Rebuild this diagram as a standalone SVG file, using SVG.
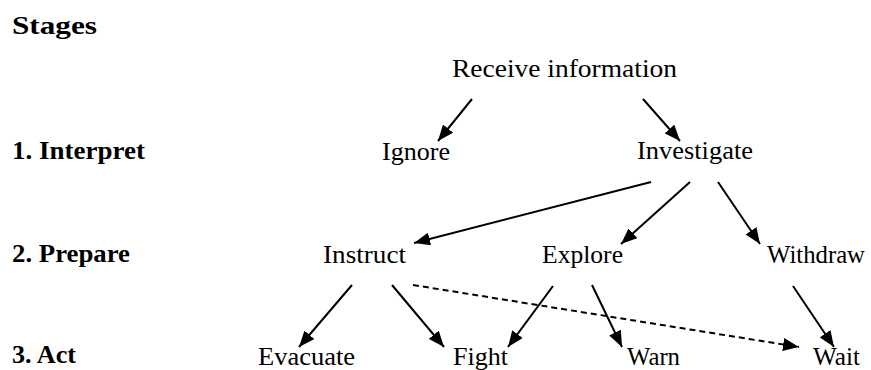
<svg xmlns="http://www.w3.org/2000/svg" width="871" height="370" viewBox="0 0 871 370">
  <style>
    .stage { font-family: "Liberation Serif", "Times New Roman", serif; font-weight: bold; font-size: 25px; fill: #000; }
    .node text { font-family: "Liberation Serif", "Times New Roman", serif; font-size: 26px; fill: #000; }
    .edge { stroke: #000; stroke-width: 2; fill: none; marker-end: url(#arrow); }
    .dashed { stroke-dasharray: 6 4; }
  </style>
  <defs>
    <marker id="arrow" markerUnits="userSpaceOnUse" markerWidth="16" markerHeight="13" refX="16" refY="6.5" orient="auto">
      <path d="M0,0 L16,6.5 L0,13 z" fill="#000"/>
    </marker>
  </defs>
  <rect width="871" height="370" fill="#fff"/>

  <!-- stage headings on the left -->
  <g id="stage-labels">
    <text class="stage" x="12" y="34" textLength="85" lengthAdjust="spacingAndGlyphs">Stages</text>
    <text class="stage" x="12" y="159" textLength="133" lengthAdjust="spacingAndGlyphs">1. Interpret</text>
    <text class="stage" x="12" y="262" textLength="118" lengthAdjust="spacingAndGlyphs">2. Prepare</text>
    <text class="stage" x="12" y="363" textLength="64" lengthAdjust="spacingAndGlyphs">3. Act</text>
  </g>

  <!-- nodes -->
  <g id="receive" class="node"><text x="452" y="77" textLength="225" lengthAdjust="spacingAndGlyphs">Receive information</text></g>
  <g id="ignore" class="node"><text x="382" y="160" textLength="68" lengthAdjust="spacingAndGlyphs">Ignore</text></g>
  <g id="investigate" class="node"><text x="637" y="159" textLength="116" lengthAdjust="spacingAndGlyphs">Investigate</text></g>
  <g id="instruct" class="node"><text x="323" y="263" textLength="83" lengthAdjust="spacingAndGlyphs">Instruct</text></g>
  <g id="explore" class="node"><text x="542" y="263" textLength="81" lengthAdjust="spacingAndGlyphs">Explore</text></g>
  <g id="withdraw" class="node"><text x="767" y="263" textLength="98" lengthAdjust="spacingAndGlyphs">Withdraw</text></g>
  <g id="evacuate" class="node"><text x="258" y="365" textLength="97" lengthAdjust="spacingAndGlyphs">Evacuate</text></g>
  <g id="fight" class="node"><text x="453" y="365" textLength="55" lengthAdjust="spacingAndGlyphs">Fight</text></g>
  <g id="warn" class="node"><text x="627" y="365" textLength="53" lengthAdjust="spacingAndGlyphs">Warn</text></g>
  <g id="wait" class="node"><text x="813" y="365" textLength="47" lengthAdjust="spacingAndGlyphs">Wait</text></g>

  <!-- connectors -->
  <g id="connectors">
    <line class="edge" x1="472" y1="99" x2="438" y2="141"/>
    <line class="edge" x1="643" y1="99" x2="680" y2="141"/>
    <line class="edge" x1="651" y1="182" x2="414" y2="243"/>
    <line class="edge" x1="690" y1="182" x2="621" y2="244"/>
    <line class="edge" x1="718" y1="182" x2="760" y2="244"/>
    <line class="edge" x1="352" y1="285" x2="299" y2="347"/>
    <line class="edge" x1="392" y1="285" x2="444" y2="347"/>
    <line class="edge dashed" x1="413" y1="285" x2="799" y2="347"/>
    <line class="edge" x1="553" y1="286" x2="508" y2="347"/>
    <line class="edge" x1="592" y1="285" x2="622" y2="347"/>
    <line class="edge" x1="793" y1="286" x2="834" y2="347"/>
  </g>
</svg>
